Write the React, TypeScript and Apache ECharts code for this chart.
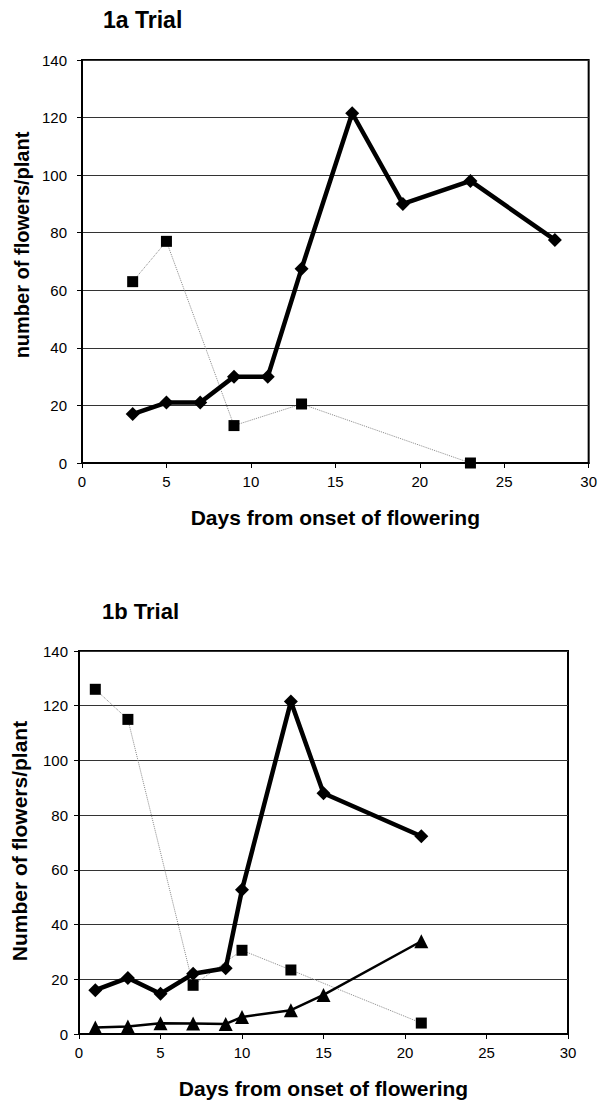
import React, { useEffect, useRef } from "react";
import * as echarts from "echarts";

// ---- Trial 1a ----
const days1aDiamond = [3, 5, 7, 9, 11, 13, 16, 19, 23, 28];
const flowers1aDiamond = [17, 21, 21, 30, 30, 67.5, 121.5, 90, 98, 77.5];
const days1aSquare = [3, 5, 9, 13, 23];
const flowers1aSquare = [63, 77, 13, 20.5, 0];

// ---- Trial 1b ----
const days1bDiamond = [1, 3, 5, 7, 9, 10, 13, 15, 21];
const flowers1bDiamond = [16, 20.5, 14.7, 22, 24, 52.7, 121.5, 88, 72.3];
const days1bSquare = [1, 3, 7, 10, 13, 21];
const flowers1bSquare = [126, 115, 17.8, 30.6, 23.4, 4];
const days1bTriangle = [1, 3, 5, 7, 9, 10, 13, 15, 21];
const flowers1bTriangle = [2.4, 2.7, 3.9, 3.8, 3.7, 6.2, 8.7, 14.3, 33.9];

const titles = ["1a Trial", "1b Trial"];
const yTitles = ["number of flowers/plant", "Number of flowers/plant"];
const xTitle = "Days from onset of flowering";

const FONT = '"Liberation Sans", Arial, sans-serif';

const zip = (xs: number[], ys: number[]) => xs.map((x, i) => [x, ys[i]]);

export default function App() {
  const ref = useRef<HTMLDivElement>(null);
  useEffect(() => {
    if (!ref.current) return;
    const chart = echarts.init(ref.current, undefined, { renderer: "svg" });

    const xAxisBase = (gridIndex: number) => ({
      type: "value",
      gridIndex,
      min: 0,
      max: 30,
      interval: 5,
      name: xTitle,
      nameLocation: "middle",
      nameGap: 44,
      nameTextStyle: { fontFamily: FONT, fontWeight: "bold", fontSize: 21, color: "#000" },
      axisLine: { show: true, lineStyle: { color: "#000", width: 2 } },
      axisTick: { show: true, inside: false, length: 5, lineStyle: { color: "#000", width: 1 } },
      axisLabel: { fontFamily: FONT, fontSize: 15, color: "#000", margin: 11 },
      splitLine: { show: false },
    });
    const yAxisBase = (gridIndex: number, margin: number) => ({
      type: "value",
      gridIndex,
      min: 0,
      max: 140,
      interval: 20,
      axisLine: { show: true, lineStyle: { color: "#000", width: 2 } },
      axisTick: { show: true, inside: false, length: 5, lineStyle: { color: "#000", width: 1 } },
      axisLabel: { fontFamily: FONT, fontSize: 15, color: "#000", margin },
      splitLine: { show: true, lineStyle: { color: "#333", width: 1 } },
    });

    const thick = (name: string, data: number[][], idx: number) => ({
      name,
      type: "line",
      xAxisIndex: idx,
      yAxisIndex: idx,
      data,
      clip: false,
      symbol: "diamond",
      symbolSize: 14,
      itemStyle: { color: "#000" },
      lineStyle: { color: "#000", width: 4.5 },
      z: 3,
    });
    const dotted = (name: string, data: number[][], idx: number) => ({
      name,
      type: "line",
      xAxisIndex: idx,
      yAxisIndex: idx,
      data,
      clip: false,
      symbol: "rect",
      symbolSize: 11,
      itemStyle: { color: "#000" },
      lineStyle: { color: "#8a8a8a", width: 1, type: "dotted" },
      z: 2,
    });

    const option = {
      animation: false,
      backgroundColor: "#fff",
      grid: [
        { left: 82, top: 60, width: 509, height: 403, show: true, borderColor: "#000", borderWidth: 2, backgroundColor: "transparent" },
        { left: 79, top: 651, width: 489, height: 383, show: true, borderColor: "#000", borderWidth: 2, backgroundColor: "transparent" },
      ],
      xAxis: [xAxisBase(0), xAxisBase(1)],
      yAxis: [yAxisBase(0, 15), yAxisBase(1, 11)],
      graphic: [
        {
          type: "text",
          x: 103,
          y: 20,
          style: { text: titles[0], font: `bold 23px ${FONT}`, fill: "#000", align: "left", verticalAlign: "middle" },
        },
        {
          type: "text",
          x: 102,
          y: 611,
          style: { text: titles[1], font: `bold 22px ${FONT}`, fill: "#000", align: "left", verticalAlign: "middle" },
        },
        {
          type: "text",
          x: 22,
          y: 245,
          rotation: Math.PI / 2,
          style: { text: yTitles[0], font: `bold 20px ${FONT}`, fill: "#000", align: "center", verticalAlign: "middle" },
        },
        {
          type: "text",
          x: 19,
          y: 841,
          rotation: Math.PI / 2,
          style: { text: yTitles[1], font: `bold 21px ${FONT}`, fill: "#000", align: "center", verticalAlign: "middle" },
        },
      ],
      series: [
        dotted("1a square", zip(days1aSquare, flowers1aSquare), 0),
        thick("1a diamond", zip(days1aDiamond, flowers1aDiamond), 0),
        dotted("1b square", zip(days1bSquare, flowers1bSquare), 1),
        thick("1b diamond", zip(days1bDiamond, flowers1bDiamond), 1),
        {
          name: "1b triangle",
          type: "line",
          xAxisIndex: 1,
          yAxisIndex: 1,
          data: zip(days1bTriangle, flowers1bTriangle),
          clip: false,
          symbol: "triangle",
          symbolSize: 14,
          itemStyle: { color: "#000" },
          lineStyle: { color: "#000", width: 2.5 },
          z: 3,
        },
      ],
    };
    chart.setOption(option as any);
    return () => chart.dispose();
  }, []);
  return (
    <div
      ref={ref}
      style={{ position: "absolute", left: 0, top: 0, width: 600, height: 1104, background: "#fff" }}
    />
  );
}
